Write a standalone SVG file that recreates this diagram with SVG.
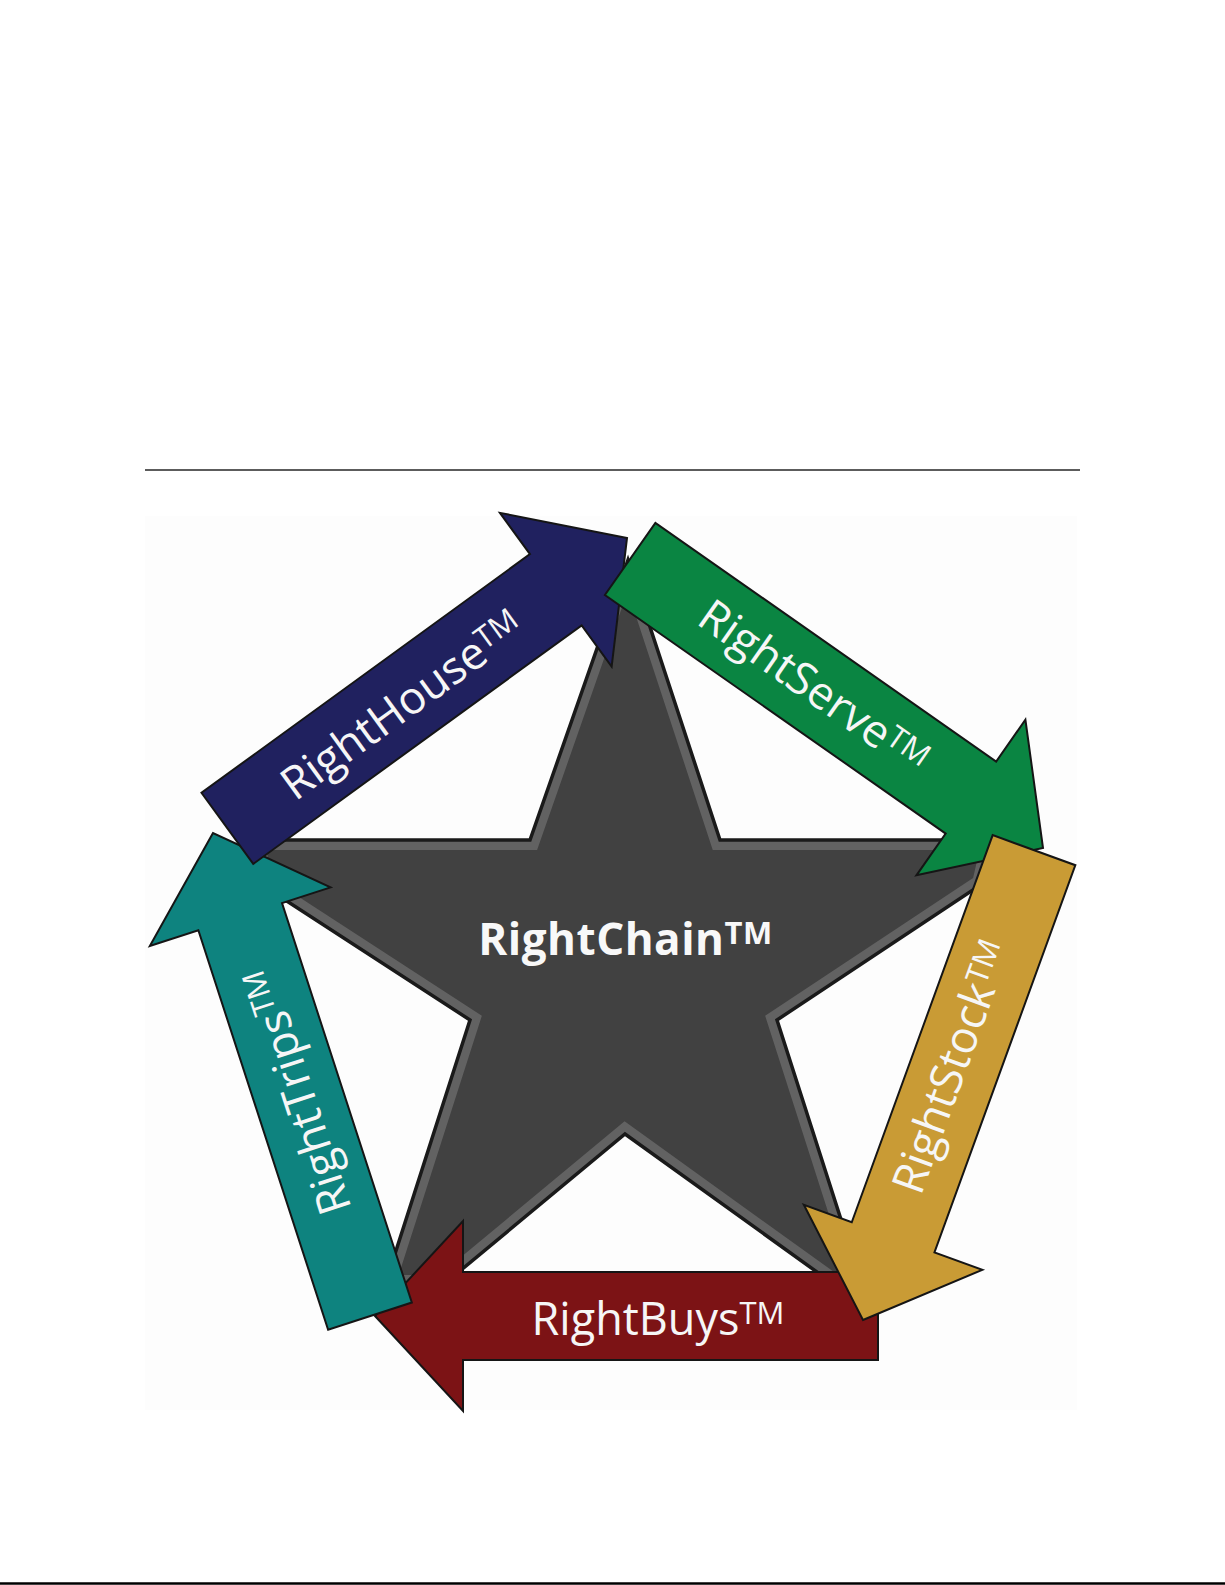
<svg xmlns="http://www.w3.org/2000/svg" xmlns:xlink="http://www.w3.org/1999/xlink" width="1225" height="1585" viewBox="0 0 1225 1585">
<style>
.arrow { stroke:#151515; stroke-width:2; stroke-linejoin:miter; stroke-miterlimit:10; }
.lbl { font-family:'Open Sans','Noto Sans','Liberation Sans',sans-serif; font-size:45px; fill:#f6f6f6; text-anchor:middle; }
.tm { font-size:31px; }
.title { font-family:'Open Sans','Noto Sans','Liberation Sans',sans-serif; font-weight:bold; font-size:44px; fill:#f8f8f8; text-anchor:middle; letter-spacing:0.5px; }
</style>
<defs>
<polygon id="starShape" points="628,560 720,840 992,840 982,884 777,1020 862,1285 835,1285 625,1134 443,1285 385,1285 470,1020 262,885 255,840 530,840"/>
<clipPath id="starClip"><use xlink:href="#starShape"/></clipPath>
</defs>
<rect width="1225" height="1585" fill="#ffffff"/>
<rect x="145" y="516" width="932" height="894" fill="#fdfdfd"/>
<line x1="145" y1="470" x2="1080" y2="470" stroke="#5c5c5c" stroke-width="2"/>
<line x1="0" y1="1583.5" x2="1225" y2="1583.5" stroke="#000" stroke-width="2.5"/>

<g id="node-rightchain">
<use xlink:href="#starShape" fill="#414141" stroke="#626262" stroke-width="20" clip-path="url(#starClip)"/>
<use xlink:href="#starShape" fill="none" stroke="#1a1a1a" stroke-width="3.5" stroke-linejoin="miter" stroke-miterlimit="10"/>
<text class="title" x="625.5" y="955">RightChain<tspan font-size="31" dy="-11">TM</tspan></text>
</g>

<g id="node-rightbuys">
<polygon class="arrow" fill="#7c1315" transform="translate(375 1316) rotate(180)" points="0,0 -88,-95 -88,-44 -503,-44 -503,44 -88,44 -88,95"/>
<text class="lbl" transform="translate(658 1316)" x="0" y="19">RightBuys<tspan class="tm" dy="-11">TM</tspan></text>
</g>

<g id="node-righttrips">
<polygon class="arrow" fill="#0e837f" transform="translate(213 833) rotate(-108)" points="0,0 -88,-95 -88,-44 -508,-44 -508,44 -88,44 -88,95"/>
<text class="lbl" transform="translate(297 1091.6) rotate(-108)" x="0" y="16">RightTrips<tspan class="tm" dy="-11">TM</tspan></text>
</g>

<g id="node-righthouse">
<polygon class="arrow" fill="#20215f" transform="translate(627 538) rotate(-36)" points="0,0 -88,-95 -88,-44 -494,-44 -494,44 -88,44 -88,95"/>
<text class="lbl" transform="translate(400 702) rotate(-36)" x="0" y="19">RightHouse<tspan class="tm" dy="-11">TM</tspan></text>
</g>

<g id="node-rightserve">
<polygon class="arrow" fill="#0a8542" transform="translate(1043 848) rotate(35)" points="0,0 -88,-95 -88,-44 -504,-44 -504,44 -88,44 -88,95"/>
<text class="lbl" transform="translate(813.5 687.6) rotate(35)" x="0" y="15">RightServe<tspan class="tm" dy="-11">TM</tspan></text>
</g>

<g id="node-rightstock">
<polygon class="arrow" fill="#c99b35" transform="translate(863 1320) rotate(110)" points="0,0 -88,-95 -88,-44 -500,-44 -500,44 -88,44 -88,95"/>
<text class="lbl" transform="translate(954.7 1068) rotate(-70)" x="0" y="12">RightStock<tspan class="tm" dy="-11">TM</tspan></text>
</g>

<g id="connectors"/>
</svg>
